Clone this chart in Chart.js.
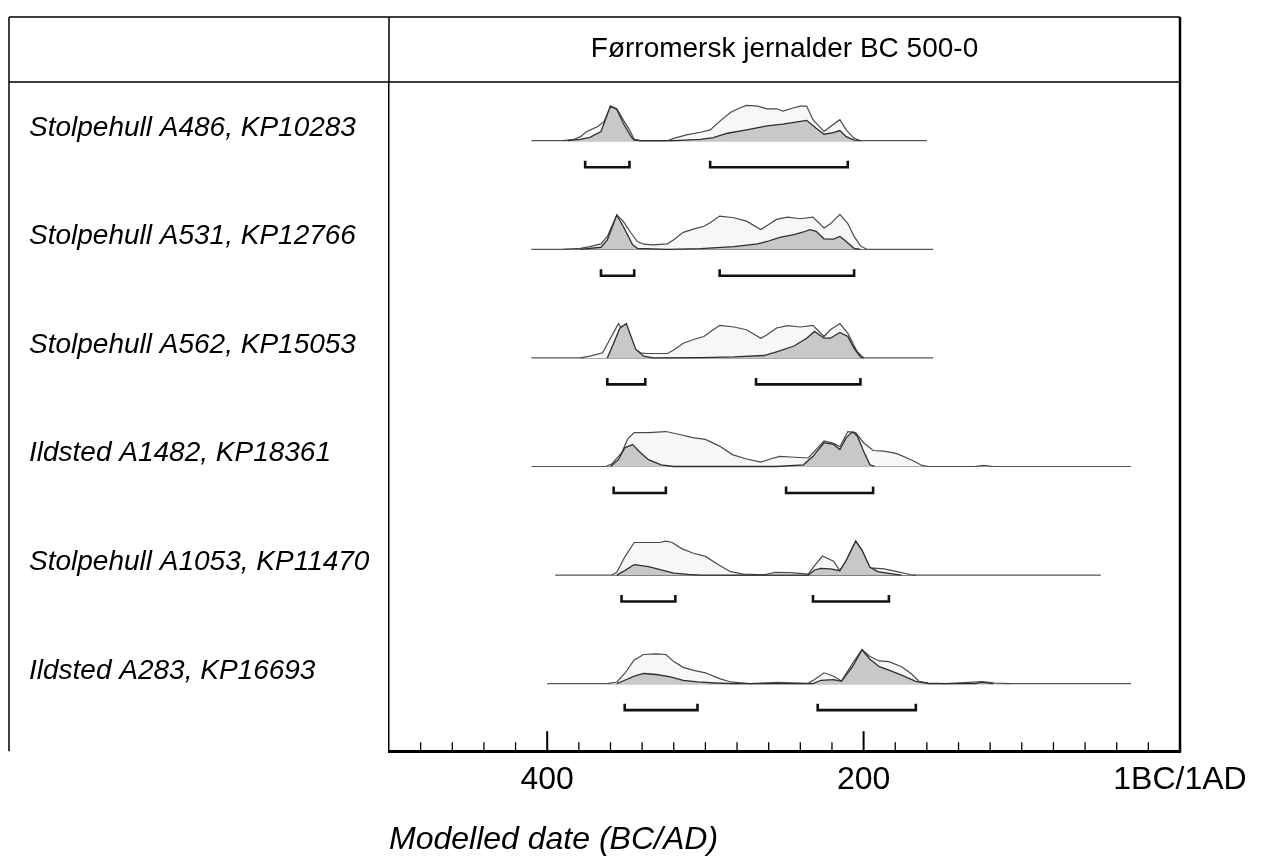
<!DOCTYPE html>
<html lang="no">
<head>
<meta charset="UTF-8" />
<title>Førromersk jernalder BC 500-0</title>
<script src="https://cdn.jsdelivr.net/npm/chart.js"></script>
<style>
  body { margin: 0; background: #fff; }
</style>
</head>
<body>
<canvas id="oxcal" width="1263" height="859"></canvas>
<script>
// sample names, top to bottom
const rowLabels = [
  'Stolpehull A486, KP10283',
  'Stolpehull A531, KP12766',
  'Stolpehull A562, KP15053',
  'Ildsted A1482, KP18361',
  'Stolpehull A1053, KP11470',
  'Ildsted A283, KP16693'
];

// [year BC, relative probability] - unmodelled (light) and modelled (grey)
const a486Unmod = [[390,0],[383,4],[379,12],[375,27],[368,42],[364,57],[360,102],[356,94],[352,62],[348,32],[345,4],[341,0],[324,0],[320,7],[312,17],[303,25],[297,32],[291,57],[284,84],[278,97],[274,104],[267,102],[261,94],[255,94],[251,87],[244,97],[240,102],[236,102],[232,62],[225,27],[221,42],[215,62],[211,32],[206,7],[202,0]];
const a486Mod = [[387,0],[379,4],[373,10],[366,27],[360,102],[356,92],[352,52],[347,12],[345,2],[341,0],[320,0],[303,4],[295,9],[286,22],[274,32],[261,44],[251,49],[244,54],[236,60],[230,37],[225,19],[219,24],[215,30],[211,12],[206,2],[202,0]];

const a531Unmod = [[390,0],[379,3],[373,8],[366,16],[362,38],[356,101],[352,83],[347,48],[343,23],[339,15],[333,13],[324,16],[320,28],[314,50],[307,60],[301,68],[297,78],[291,98],[282,93],[274,83],[265,58],[261,70],[255,88],[248,95],[240,90],[232,95],[225,63],[221,75],[215,103],[210,76],[206,38],[202,10],[198,0]];
const a531Mod = [[379,0],[366,6],[362,28],[356,101],[352,68],[346,13],[343,3],[324,0],[303,2],[282,8],[267,16],[261,23],[253,35],[244,43],[238,51],[234,58],[230,53],[225,31],[219,30],[215,38],[211,23],[206,3],[202,0]];

const a562Unmod = [[379,0],[373,5],[365,15],[360,58],[355,101],[352,83],[345,28],[341,15],[337,13],[324,13],[320,23],[314,43],[307,55],[301,63],[295,83],[291,96],[282,91],[274,83],[265,58],[261,68],[255,88],[248,95],[240,91],[232,96],[225,63],[221,83],[215,101],[210,73],[204,18],[200,0]];
const a562Mod = [[362,0],[358,43],[354,88],[350,101],[347,63],[344,25],[339,5],[333,0],[303,1],[282,3],[263,7],[255,18],[244,35],[236,58],[231,78],[225,58],[221,58],[215,75],[210,63],[206,28],[202,3],[200,0]];

const a1482Unmod = [[363,0],[359,8],[353,40],[349,82],[345,100],[336,100],[325,103],[317,95],[308,85],[300,80],[291,60],[283,35],[274,22],[265,13],[259,22],[253,30],[246,28],[235,25],[232,40],[225,75],[219,68],[215,58],[210,103],[205,100],[200,70],[194,47],[187,45],[179,38],[170,20],[163,3],[159,0],[130,0],[124,3],[118,0]];
const a1482Mod = [[360,0],[355,20],[351,55],[346,65],[342,45],[336,20],[328,5],[320,0],[255,0],[238,5],[232,30],[225,70],[219,65],[215,50],[211,85],[207,102],[204,90],[200,45],[196,5],[193,0]];

const a1053Unmod = [[359,0],[356,8],[351,53],[345,96],[336,96],[329,96],[325,100],[321,96],[315,78],[308,65],[300,55],[291,28],[284,10],[276,3],[263,1],[256,8],[246,7],[235,3],[231,28],[226,56],[219,41],[215,13],[211,43],[205,100],[201,73],[196,21],[187,18],[179,10],[170,1],[167,0]];
const a1053Mod = [[356,0],[351,13],[345,31],[336,25],[328,15],[320,6],[311,2],[303,0],[235,0],[231,15],[227,20],[221,18],[215,13],[211,43],[205,100],[201,73],[196,23],[191,10],[181,3],[176,0]];

const a283Unmod = [[362,0],[356,5],[351,30],[345,70],[339,86],[331,88],[325,86],[320,65],[314,48],[308,40],[300,32],[291,15],[284,5],[272,0],[255,4],[235,1],[231,12],[225,32],[219,22],[214,8],[207,60],[201,100],[196,80],[190,67],[184,65],[176,50],[170,30],[165,7],[159,2],[148,0],[125,6],[117,2],[108,0]];
const a283Mod = [[356,0],[351,10],[345,22],[339,30],[331,27],[322,20],[314,10],[305,5],[294,2],[283,0],[232,0],[227,10],[219,12],[214,7],[207,50],[201,100],[196,72],[190,50],[184,40],[176,25],[167,7],[159,0],[130,0],[125,4],[118,0]];

// extent of each distribution's baseline (year BC from, to)
const baselines = [[410,160],[410,156],[410,156],[410,31],[395,50],[400,31]];

// 95.4% ranges of the modelled dates (year BC from, to)
const ranges = [
  [[376,348],[297,210]],
  [[366,345],[291,206]],
  [[362,338],[268,202]],
  [[358,325],[249,194]],
  [[353,319],[232,184]],
  [[351,305],[229,167]]
];

// axis ticks (BC years as negative numbers)
const axisTicks = [-400, -200, 0];
const axisTickText = ['400', '200', '1BC/1AD'];

const unmod = [a486Unmod, a531Unmod, a562Unmod, a1482Unmod, a1053Unmod, a283Unmod];
const mod = [a486Mod, a531Mod, a562Mod, a1482Mod, a1053Mod, a283Mod];

const FONT = '"Liberation Sans", Arial, sans-serif';
const ROW_STEP = 320;
const rowBase = i => (rowLabels.length - 1 - i) * ROW_STEP;

Chart.defaults.font.family = FONT;
Chart.defaults.color = '#000';

const datasets = [];
rowLabels.forEach((name, i) => {
  const base = rowBase(i);
  const pts = arr => arr.map(([yr, p]) => ({ x: -yr, y: base + p }));
  datasets.push({
    label: name + ' baseline',
    data: [{ x: -baselines[i][0], y: base }, { x: -baselines[i][1], y: base }],
    borderColor: '#555', borderWidth: 1.2, fill: false, order: 3
  });
  datasets.push({
    label: name + ' unmodelled',
    data: pts(unmod[i]),
    fill: { value: base },
    backgroundColor: '#f7f7f7', borderColor: '#4a4a4a', borderWidth: 1.2, order: 2
  });
  datasets.push({
    label: name + ' modelled',
    data: pts(mod[i]),
    fill: { value: base },
    backgroundColor: '#c8c8c8', borderColor: '#2e2e2e', borderWidth: 1.3, order: 1
  });
  const br = [];
  ranges[i].forEach(([from, to]) => {
    br.push({ x: -from, y: base - 59 }, { x: -from, y: base - 78 },
            { x: -to, y: base - 78 }, { x: -to, y: base - 59 }, { x: -to, y: null });
  });
  datasets.push({
    label: name + ' 95.4%',
    data: br, spanGaps: false, fill: false,
    borderColor: '#111', borderWidth: 2.6, borderJoinStyle: 'miter', order: 0
  });
});

// frame, header and small axis ticks like the OxCal plot
const framePlugin = {
  id: 'frame',
  afterDraw(chart) {
    const { ctx, chartArea: a, scales: { x } } = chart;
    const top = 17, left = 9;
    ctx.save();
    ctx.strokeStyle = '#000';
    ctx.lineWidth = 1.5;
    ctx.beginPath();
    ctx.moveTo(left, top); ctx.lineTo(a.right, top);
    ctx.moveTo(left, a.top); ctx.lineTo(a.right, a.top);
    ctx.moveTo(left, top); ctx.lineTo(left, a.bottom);
    ctx.moveTo(a.left, top); ctx.lineTo(a.left, a.top);
    ctx.stroke();
    ctx.lineWidth = 2.5;
    ctx.beginPath();
    ctx.moveTo(a.right, top); ctx.lineTo(a.right, a.bottom + 1);
    ctx.stroke();

    for (let v = -480; v < 0; v += 20) {
      const px = x.getPixelForValue(v);
      const major = v % 200 === 0;
      ctx.lineWidth = major ? 2 : 1.3;
      ctx.beginPath();
      ctx.moveTo(px, a.bottom);
      ctx.lineTo(px, a.bottom - (major ? 20 : 9));
      ctx.stroke();
    }

    ctx.fillStyle = '#000';
    ctx.font = '28px ' + FONT;
    ctx.textAlign = 'center';
    ctx.textBaseline = 'middle';
    ctx.fillText('Førromersk jernalder BC 500-0', (a.left + a.right) / 2, (top + a.top) / 2);
    ctx.restore();
  }
};

new Chart(document.getElementById('oxcal'), {
  type: 'line',
  data: { datasets },
  options: {
    responsive: false,
    animation: false,
    layout: { padding: { top: 82, left: 29, right: 83, bottom: 0 } },
    elements: { point: { radius: 0 }, line: { tension: 0 } },
    plugins: { legend: { display: false }, tooltip: { enabled: false } },
    scales: {
      x: {
        type: 'linear', min: -500, max: 0,
        afterBuildTicks: s => { s.ticks = axisTicks.map(v => ({ value: v })); },
        ticks: {
          autoSkip: false, maxRotation: 0, padding: 10,
          font: { size: 32 },
          callback: v => axisTickText[axisTicks.indexOf(v)]
        },
        grid: { display: false, drawTicks: false },
        border: { color: '#000', width: 3 },
        title: {
          display: true, text: 'Modelled date (BC/AD)', align: 'start',
          font: { size: 32, style: 'italic' }, padding: { top: 11, bottom: 0 }
        }
      },
      y: {
        type: 'linear', min: -199, max: 1773,
        afterBuildTicks: s => { s.ticks = rowLabels.map((_, i) => ({ value: rowBase(i) + 38 })); },
        afterFit: s => { s.width = 360; },
        ticks: {
          autoSkip: false, crossAlign: 'far', padding: 0,
          font: { size: 28, style: 'italic' },
          callback: v => rowLabels[rowLabels.length - 1 - Math.round((v - 38) / ROW_STEP)]
        },
        grid: { display: false, drawTicks: false },
        border: { color: '#000', width: 1.5 }
      }
    }
  },
  plugins: [framePlugin]
});
</script>
</body>
</html>
